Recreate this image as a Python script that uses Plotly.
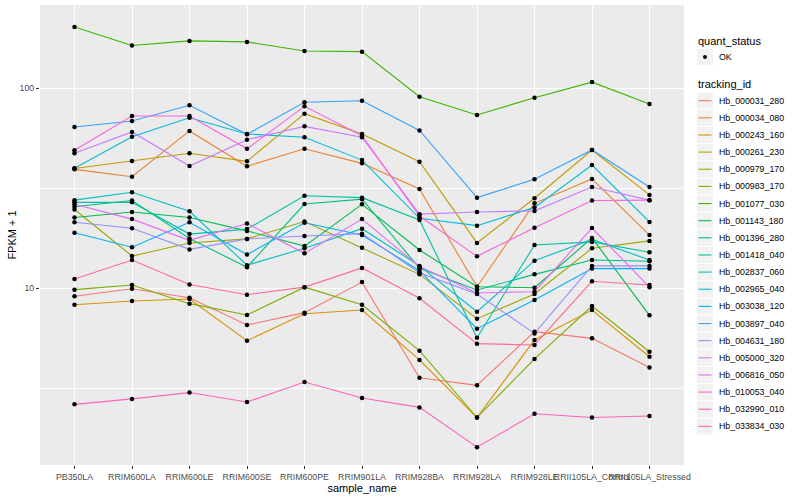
import plotly.graph_objects as go

samples = ["PB350LA", "RRIM600LA", "RRIM600LE", "RRIM600SE", "RRIM600PE", "RRIM901LA",
           "RRIM928BA", "RRIM928LA", "RRIM928LE", "RRII105LA_Control", "RRII105LA_Stressed"]

tracking_ids = ["Hb_000031_280", "Hb_000034_080", "Hb_000243_160", "Hb_000261_230", "Hb_000979_170",
                "Hb_000983_170", "Hb_001077_030", "Hb_001143_180", "Hb_001396_280", "Hb_001418_040",
                "Hb_002837_060", "Hb_002965_040", "Hb_003038_120", "Hb_003897_040", "Hb_004631_180",
                "Hb_005000_320", "Hb_006816_050", "Hb_010053_040", "Hb_032990_010", "Hb_033834_030"]

colors = ["#F8766D", "#EA8331", "#D89000", "#C09B00", "#A3A500", "#7CAE00", "#39B600", "#00BB4E",
          "#00BF7D", "#00C1A3", "#00BFC4", "#00BAE0", "#00B0F6", "#35A2FF", "#9590FF", "#C77CFF",
          "#E76BF3", "#FA62DB", "#FF62BC", "#FF6C91"]

# FPKM + 1 per sample (same order as samples)
hb_000031_280 = [9.09, 9.92, 8.94, 6.53, 7.53, 10.7, 3.56, 3.26, 6.05, 5.60, 4.00]
hb_000034_080 = [39.2, 36.0, 61.0, 40.6, 49.7, 42.0, 31.3, 10.15, 26.5, 35.1, 18.4]
hb_000243_160 = [8.25, 8.61, 8.81, 5.45, 7.44, 7.76, 4.37, 2.25, 5.50, 7.76, 4.53]
hb_000261_230 = [39.6, 43.2, 47.2, 43.0, 74.4, 58.9, 42.8, 16.8, 28.1, 49.0, 29.2]
hb_000979_170 = [24.7, 14.45, 16.8, 17.6, 21.5, 15.9, 11.7, 7.02, 9.33, 15.8, 17.2]
hb_000983_170 = [9.81, 10.35, 8.35, 7.33, 10.1, 8.25, 4.86, 2.25, 4.42, 8.13, 4.80]
hb_001077_030 = [202.0, 163.0, 172.0, 170.0, 153.0, 152.0, 90.5, 73.3, 89.4, 107.0, 83.2]
hb_001143_180 = [22.5, 24.0, 22.5, 19.3, 16.2, 26.2, 15.5, 10.15, 10.03, 17.8, 7.30]
hb_001396_280 = [25.5, 27.4, 17.7, 12.7, 26.3, 27.8, 12.55, 9.77, 11.7, 13.8, 13.6]
hb_001418_040 = [26.8, 26.8, 18.6, 19.7, 28.9, 28.3, 21.9, 5.64, 16.4, 17.0, 15.1]
hb_002837_060 = [27.5, 30.1, 24.2, 13.0, 15.8, 19.8, 12.9, 7.61, 13.7, 17.5, 13.8]
hb_002965_040 = [39.7, 57.1, 71.0, 58.9, 56.7, 43.6, 22.3, 20.5, 25.3, 41.2, 21.4]
hb_003038_120 = [18.9, 16.0, 21.3, 14.7, 21.2, 18.4, 12.2, 6.26, 8.71, 12.5, 12.5]
hb_003897_040 = [63.8, 68.4, 81.9, 58.7, 84.8, 86.4, 61.3, 28.3, 35.0, 49.0, 32.0]
hb_004631_180 = [21.3, 19.9, 15.6, 17.6, 18.2, 18.7, 11.9, 9.33, 5.93, 12.9, 12.9]
hb_005000_320 = [47.2, 60.3, 40.7, 55.1, 64.3, 56.7, 23.4, 24.0, 24.3, 32.0, 27.5]
hb_006816_050 = [26.2, 22.1, 17.3, 21.0, 14.9, 22.1, 12.8, 9.44, 9.58, 19.95, 10.1]
hb_010053_040 = [48.8, 72.4, 72.4, 49.7, 81.0, 57.7, 22.9, 14.4, 20.0, 27.4, 27.5]
hb_032990_010 = [2.62, 2.79, 3.00, 2.69, 3.39, 2.82, 2.53, 1.60, 2.35, 2.25, 2.29]
hb_033834_030 = [11.1, 13.8, 10.4, 9.26, 10.1, 12.6, 8.88, 5.27, 5.19, 10.8, 10.35]

series = [hb_000031_280, hb_000034_080, hb_000243_160, hb_000261_230, hb_000979_170,
          hb_000983_170, hb_001077_030, hb_001143_180, hb_001396_280, hb_001418_040,
          hb_002837_060, hb_002965_040, hb_003038_120, hb_003897_040, hb_004631_180,
          hb_005000_320, hb_006816_050, hb_010053_040, hb_032990_010, hb_033834_030]

quant_status = ["OK"]

FONT = "Liberation Sans, Arial, sans-serif"

fig = go.Figure()
for tid, col, vals in zip(tracking_ids, colors, series):
    fig.add_trace(go.Scatter(x=samples, y=vals, mode="lines", name=tid,
                             line=dict(color=col, width=1.1), showlegend=False))

all_x, all_y = [], []
for vals in series:
    all_x += samples
    all_y += vals
fig.add_trace(go.Scatter(x=all_x, y=all_y, mode="markers", name=quant_status[0],
                         marker=dict(color="black", size=4.5), showlegend=False))

# panel geometry (pixels) for the hand-built legend
L, R, T, B = 40, 684, 5, 465
def px_x(p):
    return (p - L) / (R - L)
def px_y(p):
    return (B - p) / (B - T)

shapes = []
annotations = []

annotations.append(dict(text="quant_status", x=px_x(696), y=px_y(40.7), xref="paper", yref="paper",
                        xanchor="left", yanchor="middle", showarrow=False,
                        font=dict(family=FONT, size=11, color="black")))
shapes.append(dict(type="rect", xref="paper", yref="paper", x0=px_x(697), x1=px_x(713),
                   y0=px_y(49), y1=px_y(65), fillcolor="#F2F2F2", line=dict(width=0), layer="above"))
shapes.append(dict(type="circle", xref="paper", yref="paper", xsizemode="pixel", ysizemode="pixel",
                   xanchor=px_x(705), yanchor=px_y(57), x0=-2, x1=2, y0=-2, y1=2,
                   fillcolor="black", line=dict(width=0), layer="above"))
annotations.append(dict(text=quant_status[0], x=px_x(717), y=px_y(57), xref="paper", yref="paper",
                        xanchor="left", yanchor="middle", showarrow=False,
                        font=dict(family=FONT, size=8.8, color="black")))

annotations.append(dict(text="tracking_id", x=px_x(696), y=px_y(84.3), xref="paper", yref="paper",
                        xanchor="left", yanchor="middle", showarrow=False,
                        font=dict(family=FONT, size=11, color="black")))
for i, (tid, col) in enumerate(zip(tracking_ids, colors)):
    yc = 100.7 + i * 17.14
    shapes.append(dict(type="rect", xref="paper", yref="paper", x0=px_x(697), x1=px_x(713),
                       y0=px_y(yc - 8), y1=px_y(yc + 8), fillcolor="#F2F2F2", line=dict(width=0),
                       layer="above"))
    shapes.append(dict(type="line", xref="paper", yref="paper", x0=px_x(698.5), x1=px_x(711.5),
                       y0=px_y(yc), y1=px_y(yc), line=dict(color=col, width=1.1), layer="above"))
    annotations.append(dict(text=tid, x=px_x(717), y=px_y(yc), xref="paper", yref="paper",
                            xanchor="left", yanchor="middle", showarrow=False,
                            font=dict(family=FONT, size=8.8, color="black")))

fig.update_layout(
    width=800, height=500,
    margin=dict(l=L, r=800 - R, t=T, b=500 - B),
    paper_bgcolor="white", plot_bgcolor="#EBEBEB",
    font=dict(family=FONT, size=8.8, color="#4D4D4D"),
    showlegend=False,
    shapes=shapes, annotations=annotations,
    xaxis=dict(type="category", categoryorder="array", categoryarray=samples,
               range=[-0.6, len(samples) - 0.4], showgrid=True, gridcolor="white", gridwidth=1.1,
               zeroline=False, showline=False, ticks="outside", ticklen=3, tickwidth=1,
               tickcolor="#333333", tickangle=0, tickfont=dict(family=FONT, size=8.8, color="#4D4D4D"),
               title=dict(text="sample_name", font=dict(family=FONT, size=11, color="black"), standoff=2)),
    yaxis=dict(type="log", range=[0.115, 2.415], tickmode="array", tickvals=[10, 100],
               ticktext=["10", "100"], showgrid=True, gridcolor="white", gridwidth=1.1,
               zeroline=False, showline=False, ticks="outside", ticklen=3, tickwidth=1,
               tickcolor="#333333", tickfont=dict(family=FONT, size=8.8, color="#4D4D4D"),
               minor=dict(tickmode="array", tickvals=[3.1623, 31.623], showgrid=True,
                          gridcolor="white", gridwidth=0.5, ticks=""),
               title=dict(text="FPKM + 1", font=dict(family=FONT, size=11, color="black"), standoff=0)),
)

fig.write_html("out.html", config={"displayModeBar": False},
               post_script="document.body.style.margin='0px';document.body.style.overflow='hidden';")
